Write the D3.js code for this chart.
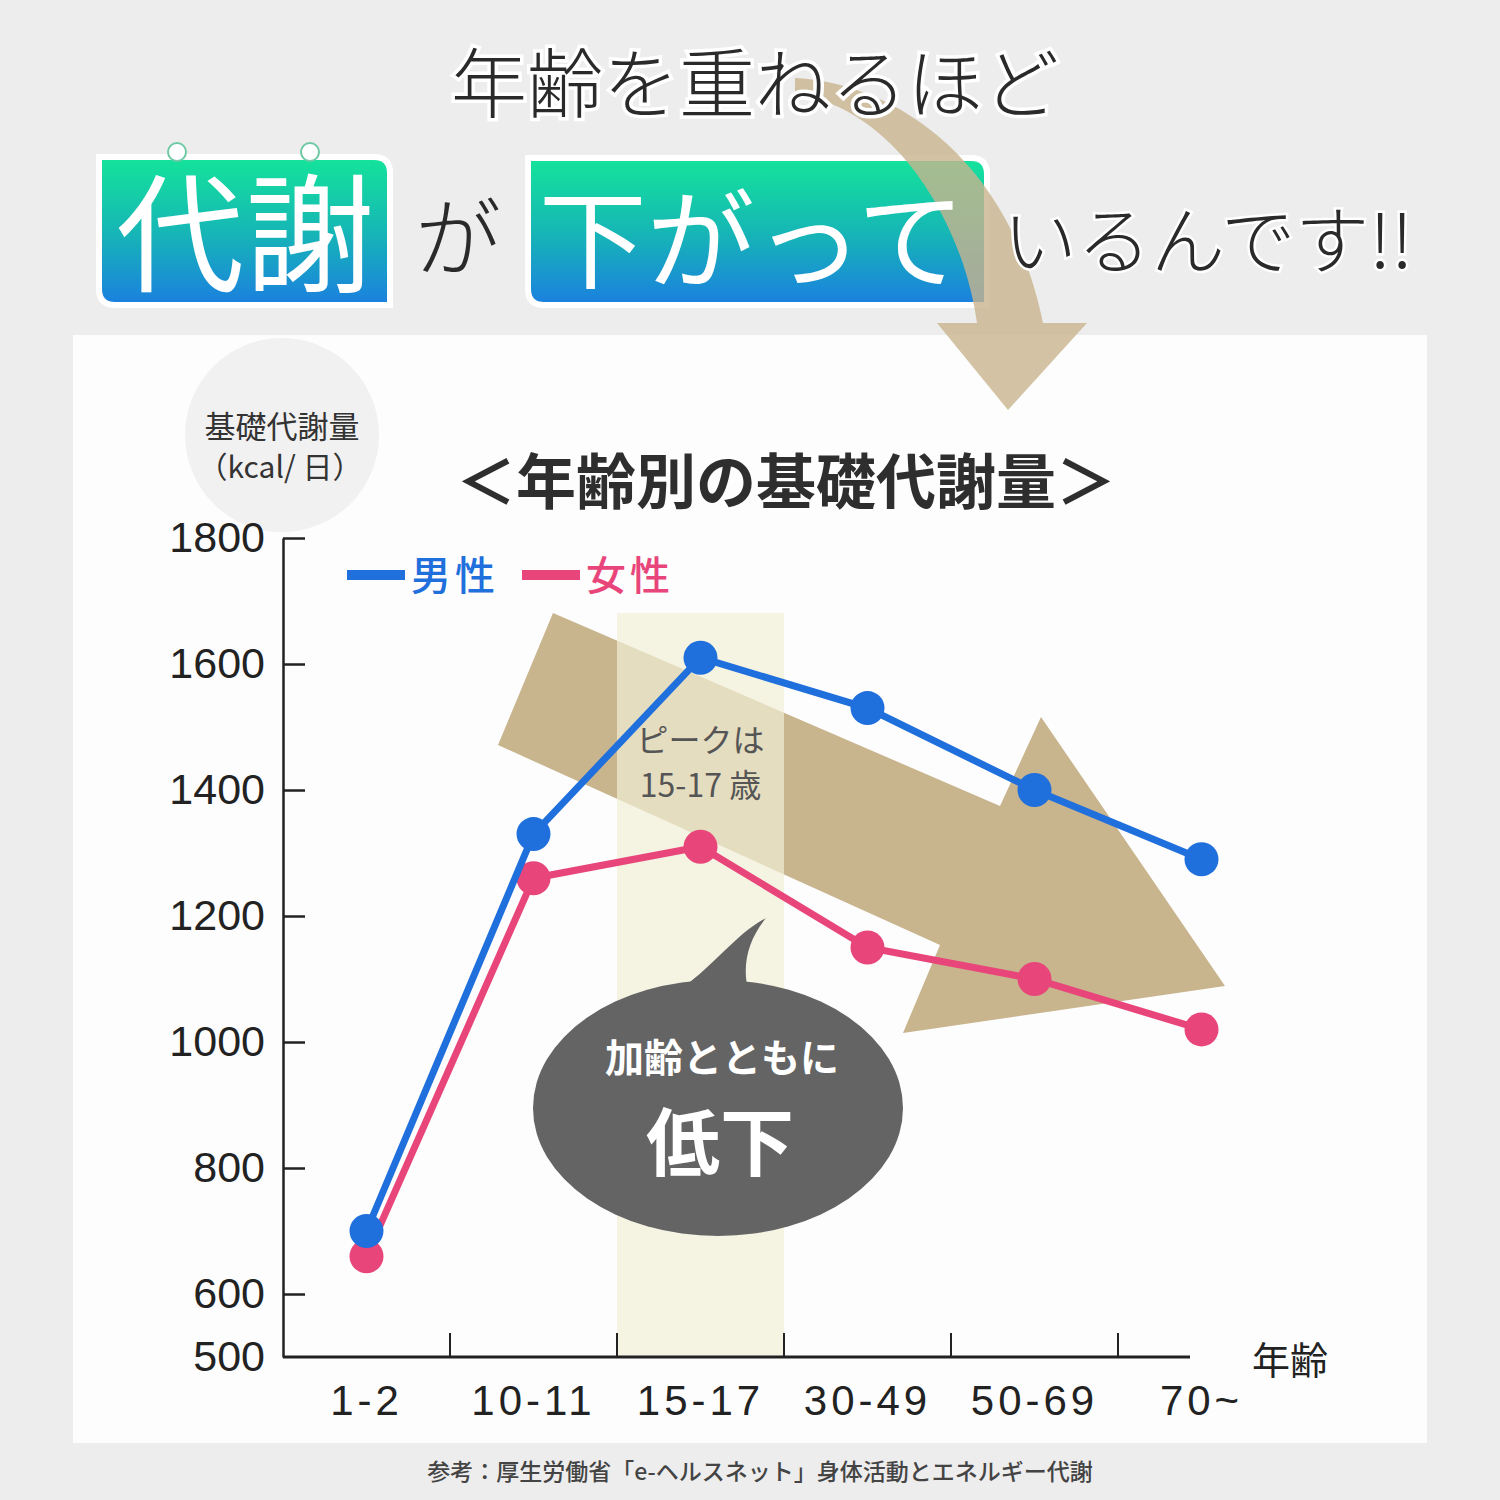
<!DOCTYPE html>
<html>
<head>
<meta charset="utf-8">
<script src="https://cdn.jsdelivr.net/npm/d3@7"></script>
<style>
  html, body { margin: 0; padding: 0; background: #ececec; }
  svg { display: block; font-family: "Noto Sans CJK JP", "Noto Sans", sans-serif; }
</style>
</head>
<body>
<div id="main"></div>
<script>
!(function () {
  'use strict';

  // data
  const ageGroups = ['1-2', '10-11', '15-17', '30-49', '50-69', '70~'];
  const maleValues = [700, 1330, 1610, 1530, 1400, 1290];
  const femaleValues = [660, 1260, 1310, 1150, 1100, 1020];
  const yTickValues = [500, 600, 800, 1000, 1200, 1400, 1600, 1800];
  const seriesNames = ['男性', '女性'];
  const peakGroup = '15-17';

  // configuration
  const canvas = {
    width: 1500,
    height: 1500,
    plot: { left: 283, right: 1285, top: 538, bottom: 1357, axisEnd: 1190 }
  };
  const colors = {
    male: '#1f6fdc',
    female: '#e8467b',
    text: '#2b2b2b',
    tan: '#c8b48d',
    bubble: '#646464'
  };

  const svg = d3.select('#main').append('svg')
    .attr('width', canvas.width)
    .attr('height', canvas.height)
    .attr('viewBox', '0 0 1500 1500');

  // background + chart panel
  svg.append('rect').attr('width', 1500).attr('height', 1500).attr('fill', '#ededed');
  svg.append('rect').attr('x', 73).attr('y', 335).attr('width', 1354).attr('height', 1108).attr('fill', '#fdfdfd');

  const defs = svg.append('defs');
  const grad = defs.append('linearGradient').attr('id', 'boxGrad')
    .attr('x1', 0).attr('y1', 0).attr('x2', 0).attr('y2', 1);
  grad.append('stop').attr('offset', '0%').attr('stop-color', '#14e49a');
  grad.append('stop').attr('offset', '50%').attr('stop-color', '#16b7b5');
  grad.append('stop').attr('offset', '100%').attr('stop-color', '#1b7fe0');

  // box with rounded top-right and bottom-left corners
  function tagPath(x0, y0, x1, y1, r) {
    return 'M' + x0 + ',' + y0 +
      'H' + (x1 - r) + 'Q' + x1 + ',' + y0 + ' ' + x1 + ',' + (y0 + r) +
      'V' + y1 +
      'H' + (x0 + r) + 'Q' + x0 + ',' + y1 + ' ' + x0 + ',' + (y1 - r) + 'Z';
  }

  // headline
  const head = svg.append('g');
  head.append('path').attr('d', tagPath(99, 157, 390, 305, 16))
    .attr('fill', 'url(#boxGrad)').attr('stroke', '#fff').attr('stroke-width', 6);
  head.append('path').attr('d', tagPath(528, 158, 987, 305, 16))
    .attr('fill', 'url(#boxGrad)').attr('stroke', '#fff').attr('stroke-width', 6);
  [177, 310].forEach(function (cx) {
    head.append('circle').attr('cx', cx).attr('cy', 152).attr('r', 9)
      .attr('fill', '#fff').attr('stroke', '#6fc9a4').attr('stroke-width', 2);
  });

  // curved arrow at the top
  head.append('path')
    .attr('d', 'M795,78 C905,84 1012,170 1043,323 L1087,323 L1008,410 L937,323 L977,323 C963,222 895,108 795,94 Z')
    .attr('fill', colors.tan).attr('opacity', 0.8);

  head.append('text').attr('x', 755).attr('y', 112).attr('text-anchor', 'middle')
    .attr('font-size', 76).attr('font-weight', 300).attr('fill', '#2a2a2a')
    .attr('stroke', '#fff').attr('stroke-width', 7).attr('paint-order', 'stroke')
    .text('年齢を重ねるほど');
  head.append('text').attr('x', 246).attr('y', 282).attr('text-anchor', 'middle')
    .attr('font-size', 128).attr('font-weight', 400).attr('fill', '#fff')
    .attr('letter-spacing', 2).text('代謝');
  head.append('text').attr('x', 458).attr('y', 270).attr('text-anchor', 'middle')
    .attr('font-size', 86).attr('font-weight', 300).attr('fill', '#2a2a2a').text('が');
  head.append('text').attr('x', 752).attr('y', 280).attr('text-anchor', 'middle')
    .attr('font-size', 108).attr('font-weight', 400).attr('fill', '#fff').text('下がって');
  head.append('text').attr('x', 1003).attr('y', 268)
    .attr('font-size', 74).attr('font-weight', 300).attr('fill', '#2a2a2a')
    .attr('stroke', '#fff').attr('stroke-width', 5).attr('paint-order', 'stroke')
    .text('いるんです!!');

  // scales
  const x = d3.scaleBand().domain(ageGroups)
    .range([canvas.plot.left, canvas.plot.right]).padding(0);
  const y = d3.scaleLinear().domain([500, 1800])
    .range([canvas.plot.bottom, canvas.plot.top]);
  const cx = function (d) { return x(d) + x.bandwidth() / 2; };

  // y-axis title bubble
  svg.append('circle').attr('cx', 282).attr('cy', 435).attr('r', 97).attr('fill', '#f1f1f1');
  svg.append('text').attr('x', 282).attr('y', 438).attr('text-anchor', 'middle')
    .attr('font-size', 31).attr('fill', '#333').text('基礎代謝量');
  svg.append('text').attr('x', 280).attr('y', 478).attr('text-anchor', 'middle')
    .attr('font-size', 30).attr('fill', '#333').text('（kcal/ 日）');

  // chart title
  svg.append('text').attr('x', 786).attr('y', 504).attr('text-anchor', 'middle')
    .attr('font-size', 60).attr('font-weight', 700).attr('fill', '#2e2e2e')
    .text('＜年齢別の基礎代謝量＞');

  // legend
  const legend = svg.append('g');
  [[seriesNames[0], colors.male, 347], [seriesNames[1], colors.female, 522]].forEach(function (s) {
    legend.append('rect').attr('x', s[2]).attr('y', 570).attr('width', 58).attr('height', 10).attr('fill', s[1]);
    legend.append('text').attr('x', s[2] + 64).attr('y', 590)
      .attr('font-size', 40).attr('font-weight', 500).attr('fill', s[1])
      .attr('letter-spacing', 4).text(s[0]);
  });

  // big downward arrow
  svg.append('path')
    .attr('d', 'M553,613 L1000,806 L1041,717 L1225,986 L903,1033 L940,945 L498,745 Z')
    .attr('fill', colors.tan);

  // peak band
  svg.append('rect')
    .attr('x', x(peakGroup)).attr('y', 613)
    .attr('width', x.bandwidth()).attr('height', y(500) - 613)
    .attr('fill', '#f1eed6').attr('opacity', 0.7);
  svg.append('text').attr('x', cx(peakGroup)).attr('y', 752).attr('text-anchor', 'middle')
    .attr('font-size', 32).attr('fill', '#555').text('ピークは');
  svg.append('text').attr('x', cx(peakGroup)).attr('y', 797).attr('text-anchor', 'middle')
    .attr('font-size', 32).attr('fill', '#555').text('15-17 歳');

  // speech bubble
  const bubble = svg.append('g');
  bubble.append('ellipse').attr('cx', 718).attr('cy', 1108).attr('rx', 185).attr('ry', 128)
    .attr('fill', colors.bubble);
  bubble.append('path')
    .attr('d', 'M680,990 C720,960 735,935 766,918 C748,940 742,965 748,990 Z')
    .attr('fill', colors.bubble);
  bubble.append('text').attr('x', 722).attr('y', 1072).attr('text-anchor', 'middle')
    .attr('font-size', 39).attr('font-weight', 700).attr('fill', '#fff').text('加齢とともに');
  bubble.append('text').attr('x', 720).attr('y', 1170).attr('text-anchor', 'middle')
    .attr('font-size', 74).attr('font-weight', 700).attr('fill', '#fff').text('低下');

  // y axis
  const yAxis = svg.append('g')
    .attr('transform', 'translate(' + canvas.plot.left + ',0)')
    .call(d3.axisLeft(y).tickValues(yTickValues).tickFormat(d3.format('d'))
      .tickSize(-22).tickSizeOuter(0).tickPadding(18));
  yAxis.select('.domain').attr('stroke', '#222').attr('stroke-width', 2.5);
  yAxis.selectAll('.tick line').attr('stroke', '#222').attr('stroke-width', 2.5)
    .filter(function (d) { return d === 500; }).remove();
  yAxis.selectAll('.tick text')
    .attr('font-family', '"Liberation Sans", Arial, sans-serif')
    .attr('font-size', 43).attr('fill', '#222');

  // x axis
  const xAxis = svg.append('g')
    .attr('transform', 'translate(0,' + canvas.plot.bottom + ')')
    .call(d3.axisBottom(x).tickSize(0).tickPadding(28));
  xAxis.select('.domain').remove();
  xAxis.append('line').attr('x1', canvas.plot.left).attr('x2', canvas.plot.axisEnd)
    .attr('stroke', '#222').attr('stroke-width', 3);
  xAxis.selectAll('.sep').data(ageGroups.slice(1)).join('line')
    .attr('class', 'sep')
    .attr('x1', function (d) { return x(d); }).attr('x2', function (d) { return x(d); })
    .attr('y1', 0).attr('y2', -24).attr('stroke', '#222').attr('stroke-width', 2);
  xAxis.selectAll('.tick text')
    .attr('font-family', '"Liberation Sans", Arial, sans-serif')
    .attr('font-size', 42).attr('fill', '#222').attr('letter-spacing', 4);
  svg.append('text').attr('x', 1252).attr('y', 1374)
    .attr('font-size', 38).attr('fill', '#222').text('年齢');

  // series
  const line = d3.line().x(function (d) { return cx(d.age); }).y(function (d) { return y(d.v); });
  [[femaleValues, colors.female], [maleValues, colors.male]].forEach(function (s) {
    const pts = ageGroups.map(function (a, i) { return { age: a, v: s[0][i] }; });
    svg.append('path').datum(pts).attr('d', line)
      .attr('fill', 'none').attr('stroke', s[1]).attr('stroke-width', 7);
    svg.append('g').selectAll('circle').data(pts).join('circle')
      .attr('cx', function (d) { return cx(d.age); })
      .attr('cy', function (d) { return y(d.v); })
      .attr('r', 17).attr('fill', s[1]);
  });

  // source note
  svg.append('text').attr('x', 760).attr('y', 1480).attr('text-anchor', 'middle')
    .attr('font-size', 23).attr('font-weight', 500).attr('fill', '#444')
    .text('参考：厚生労働省「e-ヘルスネット」身体活動とエネルギー代謝');
}());
</script>
</body>
</html>
